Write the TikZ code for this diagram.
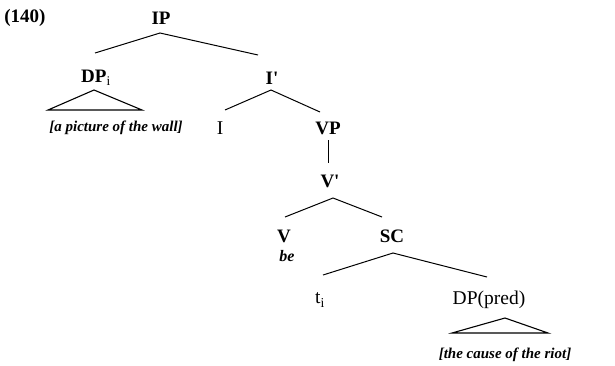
\documentclass[tikz,border=0pt]{standalone}
\usepackage{fontspec}
\setmainfont{Liberation Serif}
\begin{document}
\begin{tikzpicture}[x=1pt,y=-1pt,
  cat/.style={inner sep=0pt,font=\fontsize{19}{19}\selectfont\bfseries},
  catr/.style={inner sep=0pt,font=\fontsize{19.5}{19}\selectfont},
  leaf/.style={inner sep=0pt,font=\fontsize{15}{15}\selectfont\bfseries\itshape},
  br/.style={line width=1pt},
  tri/.style={line width=1.1pt}]
\useasboundingbox (0,0) rectangle (615,365);
% labels
\node[cat] (ex) at (25,18) {(140)};
\node[cat] (IP) at (161,18) {IP};
\node[cat] (DP) at (96,78) {DP$_{\mathrm{i}}$};
\node[leaf] (DPt) at (116,128) {[a picture of the wall]};
\node[cat] (Ib) at (272,78) {I\textquotesingle};
\node[catr] (I) at (220,128) {I};
\node[cat] (VP) at (328,128) {VP};
\node[cat] (Vb) at (330,181) {V\textquotesingle};
\node[cat] (V) at (284,236) {V};
\node[leaf,font=\fontsize{16}{16}\selectfont\bfseries\itshape] (be) at (287,256) {be};
\node[cat] (SC) at (392,236) {SC};
\node[catr] (t) at (320,300) {t$_{\mathrm{i}}$};
\node[catr] (DPp) at (489,300) {DP(pred)};
\node[leaf] (DPpt) at (505,355) {[the cause of the riot]};
% branch points
\coordinate (ipA) at (160,33);
\coordinate (ipL) at (95,53);
\coordinate (ipR) at (258,55);
\coordinate (dpA) at (94,90);
\coordinate (dpL) at (48,110);
\coordinate (dpR) at (142,110);
\coordinate (ibA) at (271,90);
\coordinate (ibL) at (225,110);
\coordinate (ibR) at (320,112);
\coordinate (vpT) at (328,140);
\coordinate (vpB) at (328,163);
\coordinate (vbA) at (333,198);
\coordinate (vbL) at (285,217);
\coordinate (vbR) at (382,217);
\coordinate (scA) at (393,253);
\coordinate (scL) at (323,275);
\coordinate (scR) at (487,277);
\coordinate (dppA) at (505,318);
\coordinate (dppL) at (452,333);
\coordinate (dppR) at (548,333);
% lines
\draw[br] (ipL) -- (ipA) -- (ipR);
\draw[tri] (dpA) -- (dpL) -- (dpR) -- cycle;
\draw[br] (ibL) -- (ibA) -- (ibR);
\draw[br] (vpT) -- (vpB);
\draw[br] (vbL) -- (vbA) -- (vbR);
\draw[br] (scL) -- (scA) -- (scR);
\draw[tri] (dppA) -- (dppL) -- (dppR) -- cycle;
\end{tikzpicture}
\end{document}
